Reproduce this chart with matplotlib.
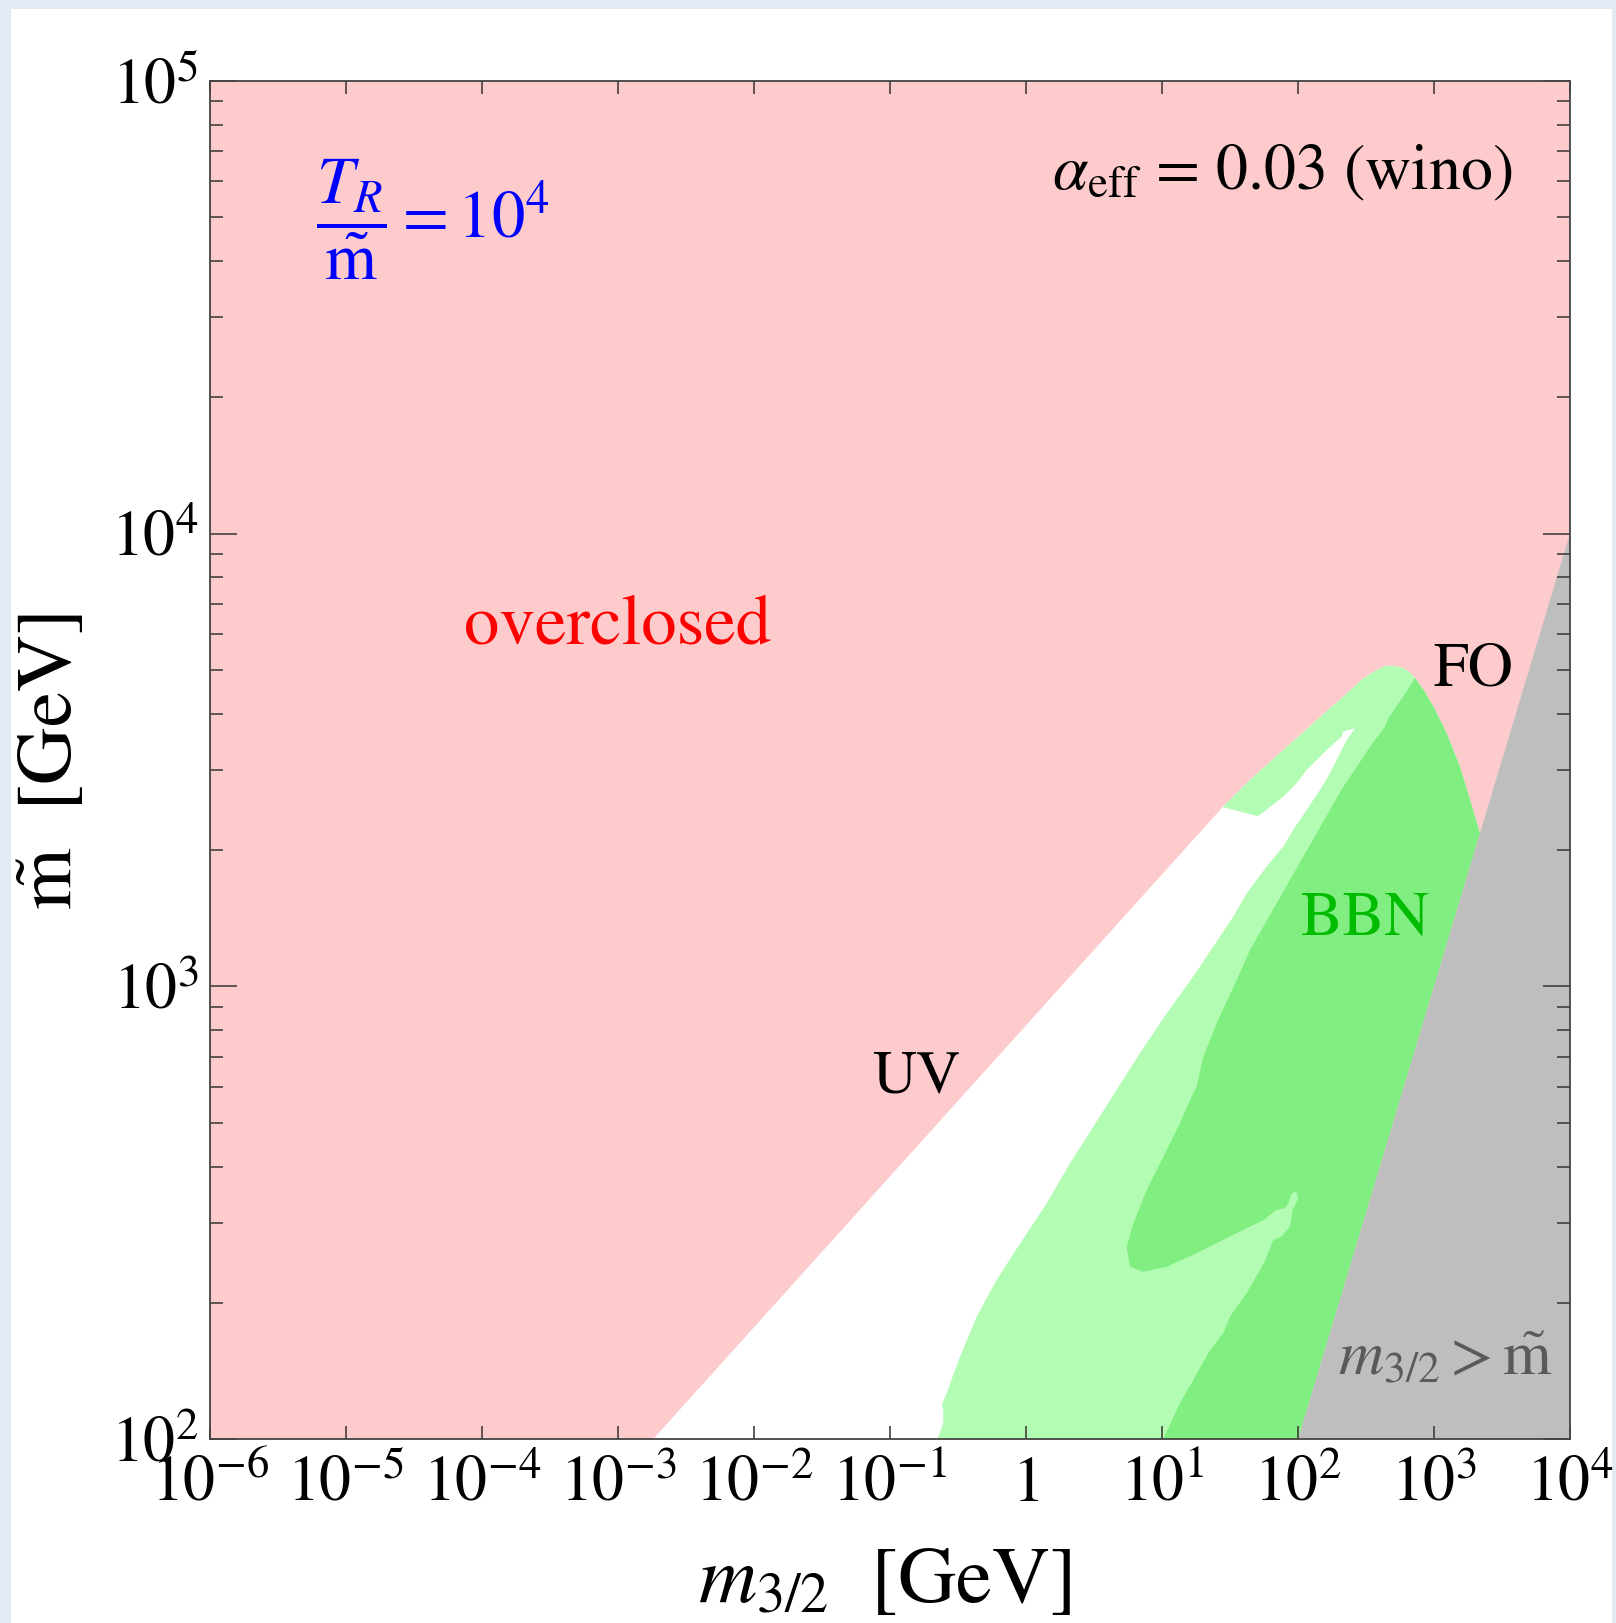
import numpy as np
import matplotlib
matplotlib.use("Agg")
import matplotlib.pyplot as plt
from matplotlib.patches import Rectangle
from matplotlib.ticker import FixedLocator, NullLocator, LogLocator, NullFormatter

plt.rcParams['mathtext.fontset'] = 'stix'
plt.rcParams['font.family'] = ['STIXGeneral', 'Liberation Serif', 'DejaVu Serif']

# ---------------- data (log10 of GeV values) ----------------
x_tick_exponents = [-6, -5, -4, -3, -2, -1, 0, 1, 2, 3, 4]
x_tick_labels = [r'$10^{-6}$', r'$10^{-5}$', r'$10^{-4}$', r'$10^{-3}$', r'$10^{-2}$',
                 r'$10^{-1}$', r'$1$', r'$10^{1}$', r'$10^{2}$', r'$10^{3}$', r'$10^{4}$']
y_tick_exponents = [2, 3, 4, 5]
y_tick_labels = [r'$10^{2}$', r'$10^{3}$', r'$10^{4}$', r'$10^{5}$']

# UV boundary (overclosure from UV production)
uv_log_m32 = [-2.742, 1.446]
uv_log_mt = [2.000, 3.396]

# FO boundary (overclosure from freeze-out), from UV end over the peak to m32 = mtilde
fo_log_m32 = [1.446, 1.647, 1.892, 2.137, 2.333, 2.480, 2.570, 2.627, 2.664, 2.720,
              2.774, 2.820, 2.860, 2.930, 2.995, 3.093, 3.191, 3.265, 3.338]
fo_log_mt = [3.396, 3.456, 3.522, 3.588, 3.640, 3.680, 3.697, 3.706, 3.708, 3.707,
             3.703, 3.694, 3.681, 3.652, 3.618, 3.559, 3.485, 3.412, 3.338]

# weaker BBN bound (light green): left edge from bottom to the tip of the white sliver
bbn_weak_log_m32 = [-0.652, -0.608, -0.608, -0.620, -0.583, -0.485, -0.362, -0.230, -0.075,
                    0.152, 0.324, 0.495, 0.667, 0.838, 1.035, 1.230, 1.377, 1.524, 1.623,
                    1.770, 1.892, 1.965, 2.064, 2.162, 2.235, 2.309, 2.358, 2.419]
bbn_weak_log_mt = [2.000, 2.036, 2.065, 2.076, 2.102, 2.183, 2.271, 2.345, 2.418,
                   2.521, 2.610, 2.690, 2.772, 2.853, 2.941, 3.022, 3.088, 3.154, 3.206,
                   3.265, 3.309, 3.346, 3.390, 3.434, 3.471, 3.515, 3.544, 3.570]

# upper edge of the white sliver, from its tip back to the end of the UV line
white_top_log_m32 = [2.333, 2.321, 2.211, 2.064, 1.990, 1.892, 1.708, 1.446]
white_top_log_mt = [3.563, 3.552, 3.522, 3.478, 3.449, 3.419, 3.376, 3.396]

# stronger BBN bound (dark green): left edge from the FO curve down to the bottom
bbn_strong_log_m32 = [2.860, 2.774, 2.664, 2.640, 2.529, 2.432, 2.333, 2.235, 2.137, 2.039,
                      1.941, 1.794, 1.647, 1.549, 1.402, 1.304, 1.255, 1.206, 1.132, 1.010,
                      0.888, 0.789, 0.740, 0.765, 0.862, 1.035, 1.255, 1.500, 1.745, 1.843,
                      1.904, 1.929, 1.954, 1.985, 2.002, 1.960, 1.941, 1.880, 1.818, 1.770,
                      1.721, 1.623, 1.500, 1.451, 1.353, 1.230, 1.132, 1.010]
bbn_strong_log_mt = [3.681, 3.640, 3.592, 3.574, 3.529, 3.485, 3.441, 3.390, 3.338, 3.287,
                     3.235, 3.158, 3.080, 3.014, 2.919, 2.845, 2.779, 2.749, 2.698, 2.624,
                     2.551, 2.477, 2.425, 2.381, 2.370, 2.381, 2.411, 2.448, 2.484, 2.507,
                     2.510, 2.521, 2.543, 2.547, 2.532, 2.507, 2.470, 2.448, 2.440, 2.403,
                     2.374, 2.323, 2.271, 2.234, 2.197, 2.131, 2.080, 2.000]

# m32 > mtilde region
heavy_log_m32 = [2.0, 4.0, 4.0]
heavy_log_mt = [2.0, 4.0, 2.0]

# ---------------- colours ----------------
c_pink = '#FDCBCB'
c_light = '#B3FCB3'
c_dark = '#80EE80'
c_gray = '#BEBEBE'

# ---------------- figure ----------------
fig = plt.figure(figsize=(16.16, 16.23), dpi=100)
fig.patch.set_facecolor('#E3EAF4')
fig.patches.append(Rectangle((11 / 1616, 0.0), 1601 / 1616, 1 - 9 / 1623,
                             transform=fig.transFigure, facecolor='white',
                             edgecolor='none', zorder=-10))

ax = fig.add_axes([210 / 1616, 1 - 1439.3 / 1623, 1360 / 1616, 1358.6 / 1623])
ax.set_zorder(1)
ax.set_xscale('log')
ax.set_yscale('log')
ax.set_xlim(1e-6, 1e4)
ax.set_ylim(1e2, 1e5)
ax.set_facecolor(c_pink)

p10 = lambda a: np.power(10.0, np.asarray(a, dtype=float))

# allowed envelope (white)
env_x = np.concatenate([uv_log_m32, fo_log_m32[1:], [heavy_log_m32[0]]])
env_y = np.concatenate([uv_log_mt, fo_log_mt[1:], [heavy_log_mt[0]]])
ax.fill(p10(env_x), p10(env_y), color='white', lw=0, zorder=1)

# light green region
lg_x = np.concatenate([bbn_weak_log_m32, white_top_log_m32, fo_log_m32[1:], [heavy_log_m32[0]]])
lg_y = np.concatenate([bbn_weak_log_mt, white_top_log_mt, fo_log_mt[1:], [heavy_log_mt[0]]])
ax.fill(p10(lg_x), p10(lg_y), color=c_light, lw=0, zorder=1.1)

# dark green region
fo_x = np.asarray(fo_log_m32)
fo_y = np.asarray(fo_log_mt)
mask = fo_x > bbn_strong_log_m32[0]
dg_x = np.concatenate([bbn_strong_log_m32, [heavy_log_m32[0]], fo_x[mask][::-1]])
dg_y = np.concatenate([bbn_strong_log_mt, [heavy_log_mt[0]], fo_y[mask][::-1]])
ax.fill(p10(dg_x), p10(dg_y), color=c_dark, lw=0, zorder=1.2)

# m32 > mtilde
ax.fill(p10(heavy_log_m32), p10(heavy_log_mt), color=c_gray, lw=0, zorder=1.3)

# ---------------- axes styling ----------------
ax.xaxis.set_major_locator(FixedLocator(p10(x_tick_exponents)))
ax.set_xticklabels(x_tick_labels)
ax.xaxis.set_minor_locator(NullLocator())
ax.yaxis.set_major_locator(FixedLocator(p10(y_tick_exponents)))
ax.set_yticklabels(y_tick_labels)
ax.yaxis.set_minor_locator(LogLocator(base=10, subs=np.arange(2, 10)))
ax.yaxis.set_minor_formatter(NullFormatter())

tick_col = '#333333'
ax.tick_params(which='both', direction='in', top=True, right=True, color=tick_col,
               width=1.1, labelsize=46)
ax.tick_params(axis='y', which='major', length=19.5, pad=8)
ax.tick_params(axis='y', which='minor', length=9.4)
ax.tick_params(axis='x', which='major', length=9.4, pad=12)
for s in ax.spines.values():
    s.set_color('#444444')
    s.set_linewidth(1.3)

ax.set_xlabel(r'$m_{3/2}\ \ [\mathrm{GeV}]$', fontsize=58, va='baseline')
ax.xaxis.set_label_coords(0.496, -0.1195)
ax.set_ylabel(r'$\tilde{\mathrm{m}}\ \ [\mathrm{GeV}]$', fontsize=57, va='center', ha='center')
ax.yaxis.set_label_coords(-0.1147, 0.499)

# ---------------- annotations ----------------
ax.text(0.2996, 0.5854, 'overclosed', color='red', fontsize=51, ha='center',
        va='baseline', transform=ax.transAxes, zorder=5)
ax.text(0.5191, 0.2549, 'UV', color='black', fontsize=44, ha='center',
        va='baseline', transform=ax.transAxes, zorder=5)
ax.text(0.9287, 0.5552, 'FO', color='black', fontsize=45, ha='center',
        va='baseline', transform=ax.transAxes, zorder=5)
ax.text(0.8493, 0.3712, 'BBN', color='#00BB00', fontsize=45, ha='center',
        va='baseline', transform=ax.transAxes, zorder=5)
ax.text(0.9088, 0.0473, r'$m_{3/2} > \tilde{\mathrm{m}}$', color='#5A5A5A', fontsize=45,
        ha='center', va='baseline', transform=ax.transAxes, zorder=5)
ax.text(0.958, 0.9203, r'$\alpha_{\mathrm{eff}}$ = 0.03 (wino)', color='black', fontsize=46,
        ha='right', va='baseline', transform=ax.transAxes, zorder=5)
ax.text(0.0779, 0.8840, r'$\dfrac{T_R}{\tilde{\mathrm{m}}} = 10^4$', color='blue',
        fontsize=48, ha='left', va='baseline', transform=ax.transAxes, zorder=5)

fig.savefig('out.png', dpi=100, facecolor=fig.get_facecolor())
